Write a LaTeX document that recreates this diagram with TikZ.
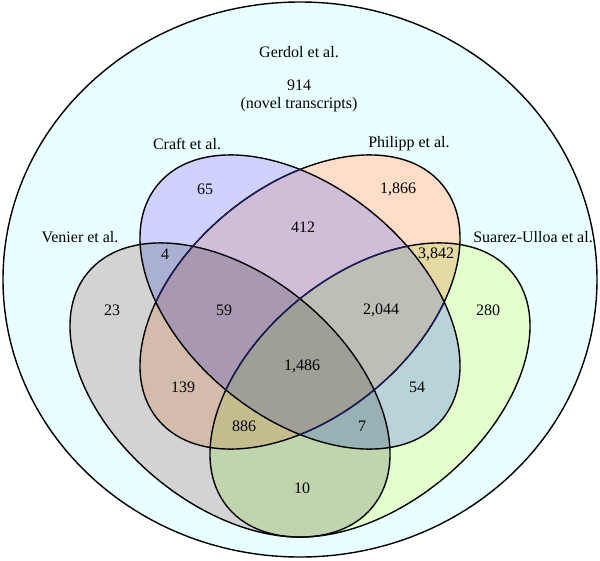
\documentclass[tikz,border=0pt]{standalone}
\usepackage{fontspec}
\setmainfont{Liberation Serif}
\definecolor{cG}{RGB}{233,255,255}
\definecolor{cV}{RGB}{211,211,211}
\definecolor{cC}{RGB}{207,210,255}
\definecolor{cP}{RGB}{255,221,200}
\definecolor{cS}{RGB}{226,255,204}
\definecolor{cVC}{RGB}{170,176,210}
\definecolor{cVP}{RGB}{212,188,172}
\definecolor{cVS}{RGB}{192,213,173}
\definecolor{cCP}{RGB}{208,189,216}
\definecolor{cCS}{RGB}{184,212,217}
\definecolor{cPS}{RGB}{229,218,162}
\definecolor{cVCP}{RGB}{169,152,177}
\definecolor{cVCS}{RGB}{152,177,181}
\definecolor{cVPS}{RGB}{196,189,142}
\definecolor{cCPS}{RGB}{190,190,183}
\definecolor{cAll}{RGB}{159,159,151}
\definecolor{navyline}{RGB}{30,30,90}
\newcommand\Ve{(230,390) ellipse [x radius=184.4, y radius=115, rotate=-39.5]}
\newcommand\Se{(370,390) ellipse [x radius=184.4, y radius=115, rotate=39.5]}
\newcommand\Ce{(300,302) ellipse [x radius=184.4, y radius=115, rotate=-39.5]}
\newcommand\Pe{(300,302) ellipse [x radius=184.4, y radius=115, rotate=39.5]}
\tikzset{
  outline/.style={draw=black, line width=1.4pt},
  navyoutline/.style={draw=navyline, line width=1.4pt},
  lbl/.style={inner sep=0pt, anchor=center, font=\fontsize{16}{17.5}\selectfont},
}
\begin{document}
\begin{tikzpicture}[x=1pt,y=-1pt]
\useasboundingbox (0,0) rectangle (600,560);
% Gerdol
\fill[cG] (300,279.5) ellipse [x radius=297, y radius=277.5];
% single sets
\fill[cV] \Ve;
\fill[cC] \Ce;
\fill[cP] \Pe;
\fill[cS] \Se;
% pairs
\begin{scope}\clip \Ve; \fill[cVC] \Ce; \end{scope}
\begin{scope}\clip \Ve; \fill[cVP] \Pe; \end{scope}
\begin{scope}\clip \Ve; \fill[cVS] \Se; \end{scope}
\begin{scope}\clip \Ce; \fill[cCP] \Pe; \end{scope}
\begin{scope}\clip \Ce; \fill[cCS] \Se; \end{scope}
\begin{scope}\clip \Pe; \fill[cPS] \Se; \end{scope}
% triples
\begin{scope}\clip \Ve; \clip \Ce; \fill[cVCP] \Pe; \end{scope}
\begin{scope}\clip \Ve; \clip \Ce; \fill[cVCS] \Se; \end{scope}
\begin{scope}\clip \Ve; \clip \Pe; \fill[cVPS] \Se; \end{scope}
\begin{scope}\clip \Ce; \clip \Pe; \fill[cCPS] \Se; \end{scope}
% all four
\begin{scope}\clip \Ve; \clip \Ce; \clip \Pe; \fill[cAll] \Se; \end{scope}
% outlines
\draw[outline] (300,279.5) ellipse [x radius=297, y radius=277.5];
\draw[outline] \Ve;
\draw[outline] \Se;
\draw[outline] \Ce;
\draw[outline] \Pe;
\begin{scope}\clip \Ce; \draw[navyoutline] \Pe; \draw[navyoutline] \Se; \end{scope}
% set labels
\node[lbl] (gerdol) at (299,52) {Gerdol et al.};
\node[lbl, align=center] (novel) at (299,96) {914\\(novel transcripts)};
\node[lbl] (craft) at (187,144) {Craft et al.};
\node[lbl] (philipp) at (409,144) {Philipp et al.};
\node[lbl] (venier) at (80,237) {Venier et al.};
\node[lbl] (suarez) at (533,237) {Suarez-Ulloa et al.};
% counts
\node[lbl] (n65) at (205,189) {65};
\node[lbl] (n1866) at (398,189) {1,866};
\node[lbl] (n412) at (303,227) {412};
\node[lbl] (n4) at (165,254) {4};
\node[lbl] (n3842) at (436,254) {3,842};
\node[lbl] (n23) at (112,310) {23};
\node[lbl] (n59) at (224,310) {59};
\node[lbl] (n2044) at (381,310) {2,044};
\node[lbl] (n280) at (488,310) {280};
\node[lbl] (n1486) at (302,366) {1,486};
\node[lbl] (n139) at (183,387) {139};
\node[lbl] (n54) at (417,387) {54};
\node[lbl] (n886) at (244,426) {886};
\node[lbl] (n7) at (362,426) {7};
\node[lbl] (n10) at (302,488) {10};
\end{tikzpicture}
\end{document}
